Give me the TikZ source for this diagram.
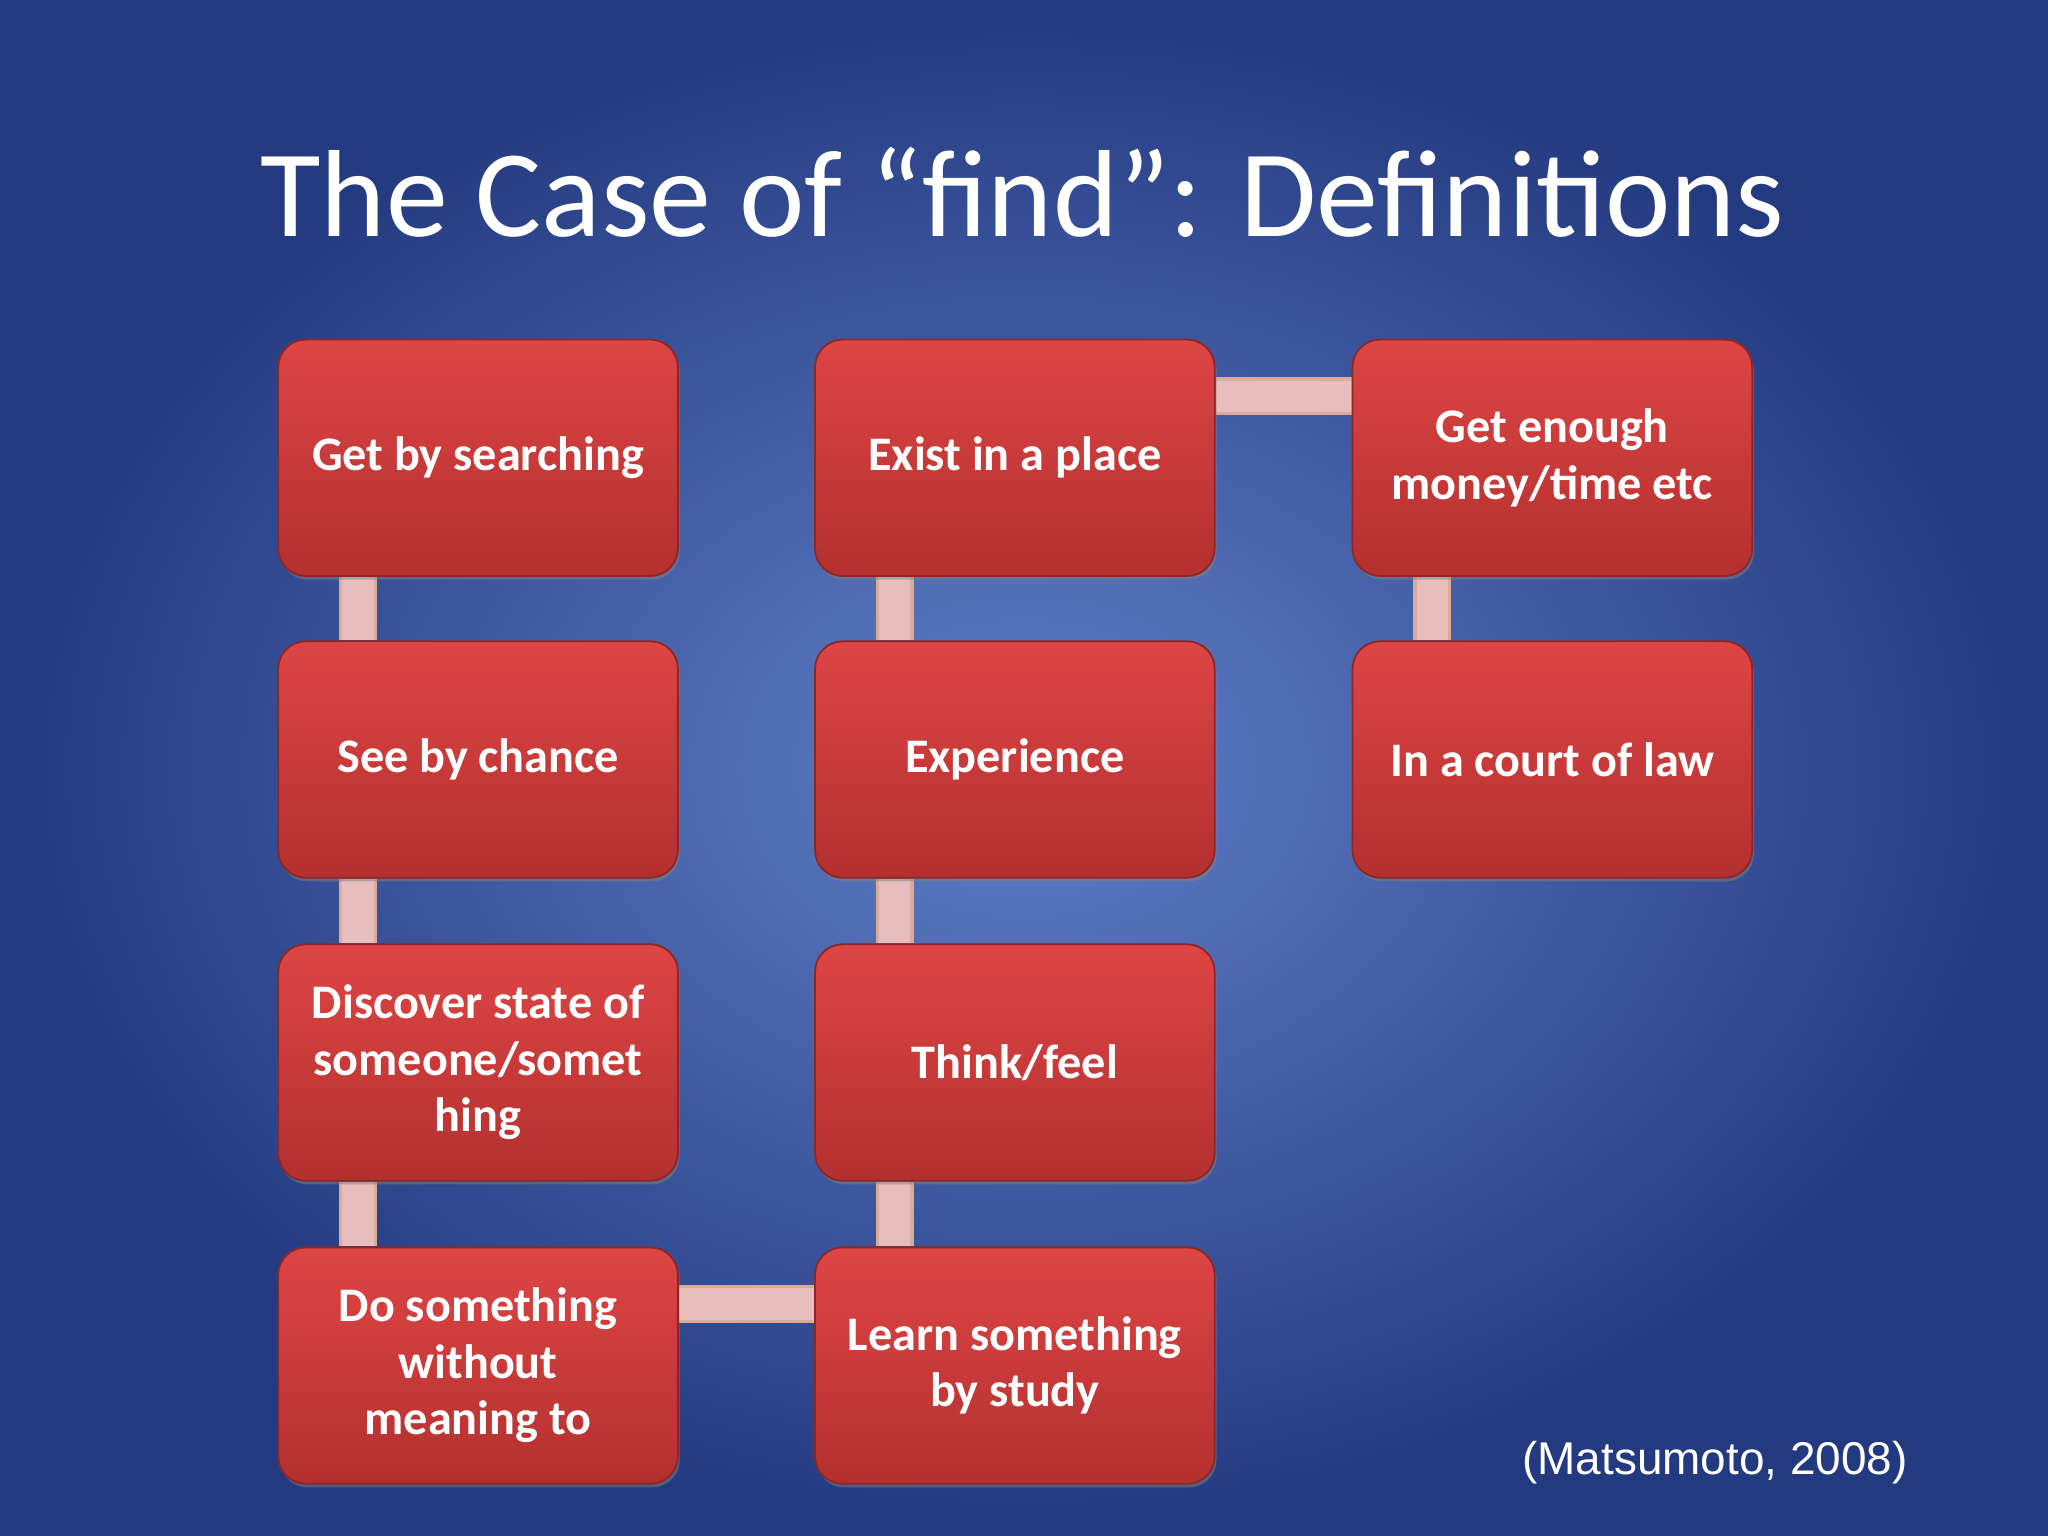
\documentclass[tikz,border=0pt]{standalone}
\usepackage{fontspec}
\setmainfont{Carlito}
\usetikzlibrary{shadows}
\pgfdeclarelayer{bg}\pgfdeclarelayer{mid}\pgfsetlayers{bg,mid,main}
\definecolor{bgout}{HTML}{243A80}
\definecolor{bgin}{HTML}{5F7FC8}
\definecolor{boxtop}{HTML}{DE4545}
\definecolor{boxbot}{HTML}{B3302F}
\definecolor{barcol}{HTML}{E8BDBD}
\tikzset{
 defbox/.style={rectangle, rounded corners=6pt, minimum width=3.06cm, minimum height=1.81cm,
   top color=boxtop, bottom color=boxbot, draw=boxbot!80!black, line width=0.4pt,
   text=white, font=\fontsize{10.5}{12.3}\selectfont\bfseries, align=center, inner sep=1pt,
   drop shadow={shadow xshift=0.4pt, shadow yshift=-0.8pt, opacity=0.5}},
 linkbar/.style={draw=barcol!70!brown, line width=2.9mm},
 linkin/.style={draw=barcol, line width=2.4mm}
}
\begin{document}
\begin{tikzpicture}
\begin{pgfonlayer}{bg}
\fill[inner color=bgin, outer color=bgout] (0,0) rectangle (15.68,-11.76);
\end{pgfonlayer}
\useasboundingbox (0,0) rectangle (15.68,-11.76);
\node[text=white, font=\fontsize{27}{32}\selectfont] (title) at (7.83,-1.47) {The Case of “find”: Definitions};
\node[defbox] (a1) at (3.66,-3.505) {Get by searching};
\node[defbox] (a2) at (3.66,-5.815) {See by chance};
\node[defbox] (a3) at (3.66,-8.135) {Discover state of\\someone/somet\\hing};
\node[defbox] (a4) at (3.66,-10.455) {Do something\\without\\meaning to};
\node[defbox] (b1) at (7.77,-3.505) {Exist in a place};
\node[defbox] (b2) at (7.77,-5.815) {Experience};
\node[defbox] (b3) at (7.77,-8.135) {Think/feel};
\node[defbox] (b4) at (7.77,-10.455) {Learn something\\by study};
\node[defbox] (c1) at (11.885,-3.505) {Get enough\\money/time etc};
\node[defbox] (c2) at (11.885,-5.815) {In a court of law};
\node[font=\fontsize{10}{12}\selectfont\fontspec{Liberation Sans}, text=white] (cite) at (13.13,-11.2) {(Matsumoto, 2008)};
\begin{pgfonlayer}{mid}
\foreach \u/\v in {a1/a2,a2/a3,a3/a4,b1/b2,b2/b3,b3/b4,c1/c2}{
 \draw[linkbar] ([xshift=-0.92cm]\u.south) -- ([xshift=-0.92cm]\v.north);
 \draw[linkin] ([xshift=-0.92cm]\u.south) -- ([xshift=-0.92cm]\v.north);}
\foreach \u/\v in {b1/c1,a4/b4}{
 \draw[linkbar] ([yshift=0.47cm]\u.east) -- ([yshift=0.47cm]\v.west);
 \draw[linkin] ([yshift=0.47cm]\u.east) -- ([yshift=0.47cm]\v.west);}
\end{pgfonlayer}
\end{tikzpicture}
\end{document}
